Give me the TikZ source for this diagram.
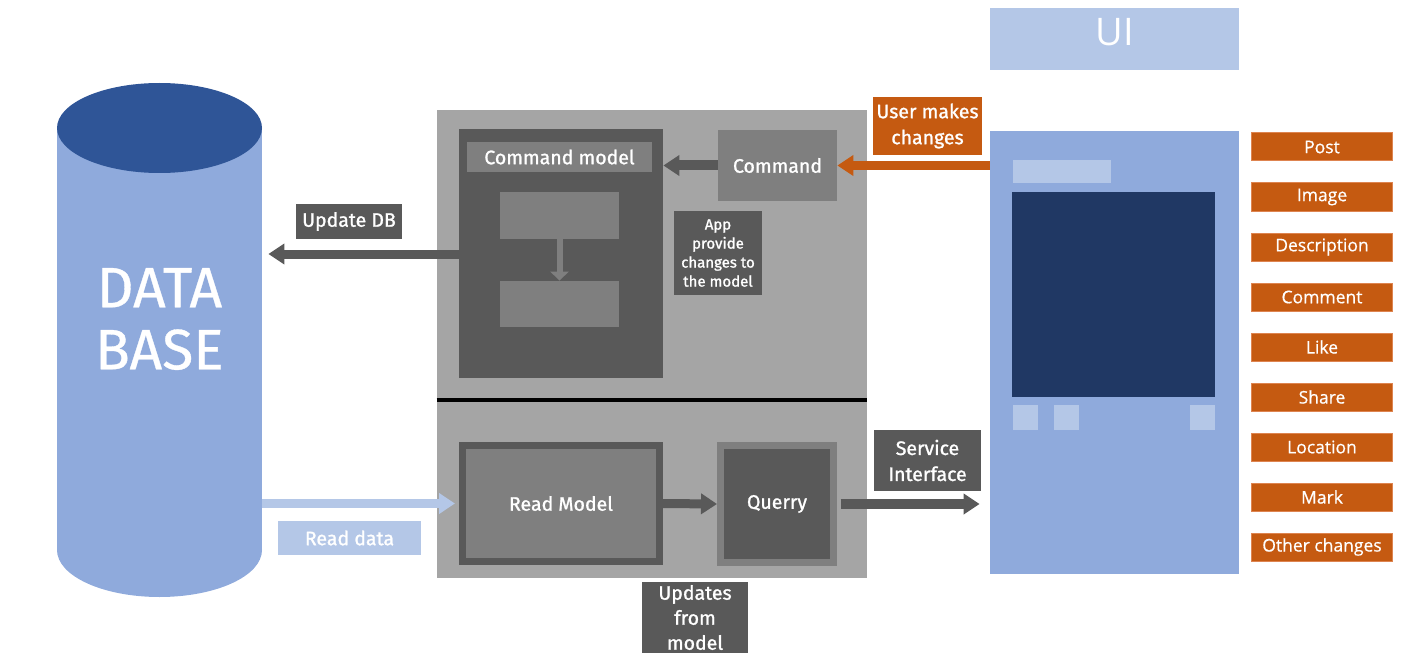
\documentclass[tikz,border=0pt]{standalone}
\usepackage{fontspec}
\setmainfont{Fira Sans}
\newfontfamily\boxfont{Fira Sans}[FakeBold=1.2]
\newfontfamily\dbfont{Fira Sans}[FakeBold=0.6]
\newfontfamily\uifont{Open Sans}
\newfontfamily\changefont{Open Sans}[FakeBold=0.6]
\usetikzlibrary{positioning, arrows.meta}

\definecolor{boxdark}{HTML}{595959}
\definecolor{boxmid}{HTML}{7F7F7F}
\definecolor{panelgray}{HTML}{A5A5A5}
\definecolor{uilight}{HTML}{B4C7E7}
\definecolor{uimid}{HTML}{8FAADC}
\definecolor{dbtop}{HTML}{2F5597}
\definecolor{screenblue}{HTML}{203864}
\definecolor{changeorange}{HTML}{C55A11}
\definecolor{changeedge}{HTML}{DE8450}

\begin{document}
\begin{tikzpicture}[x=1pt, y=-1pt, thick,
  base/.style = {inner sep=0pt, align=center, text=white, font=\boxfont\fontsize{19.5}{26}\selectfont},
  darkbox/.style = {base, fill=boxdark},
  midbox/.style = {base, fill=boxmid},
  change/.style = {base, fill=changeorange, draw=changeedge, line width=1pt, minimum width=141, minimum height=28, font=\changefont\fontsize{17.5}{20}\selectfont},
  bigarrow/.style = {line width=9pt, -{Triangle[width=20pt, length=16pt]}},
]
\useasboundingbox (0,0) rectangle (1410,663);

% database
\fill[uimid] (57,128) rectangle (262,550);
\fill[uimid] (159.5,550) ellipse [x radius=102.5, y radius=47];
\fill[dbtop] (159.5,128) ellipse [x radius=102.5, y radius=45];
\node[base, minimum width=205, font=\dbfont\fontsize{57}{62}\selectfont] (db) at (159.5,319) {DATA\\BASE};

% command / query side
\node[fill=panelgray, inner sep=0pt, minimum width=430, minimum height=468] (panel) at (652,344) {};
\draw[line width=4pt] (panel.west |- 0,399.5) -- (panel.east |- 0,399.5);

\node[darkbox, minimum width=204, minimum height=249] (cmdmodel) at (561,253.5) {};
\node[midbox, minimum width=185, minimum height=30] (cmdlabel) at (559.5,157) {Command model};
\node[midbox, minimum width=119, minimum height=47] (stepa) at (559.5,215.5) {};
\node[midbox, minimum width=119, minimum height=46] (stepb) at (559.5,304) {};
\draw[boxmid, line width=6pt, -{Triangle[width=18pt, length=9pt]}] (stepa) -- (stepb);

\node[midbox, minimum width=119, minimum height=71] (command) at (777.5,165.5) {Command};
\node[darkbox, minimum width=88, minimum height=84, font=\boxfont\fontsize{15}{19}\selectfont] (appnote) at (718,253) {App\\provide\\changes to\\the model};
\node[base, fill=changeorange, minimum width=109, minimum height=58] (usernote) at (927.5,126) {User makes\\changes};
\node[darkbox, minimum width=106, minimum height=35] (updatenote) at (349,221.5) {Update DB};

\node[midbox, draw=boxdark, line width=7pt, minimum width=197, minimum height=116] (readmodel) at (561,503.5) {Read Model};
\node[darkbox, draw=boxmid, line width=7pt, minimum width=113, minimum height=117] (querry) at (777,504) {Querry};
\node[darkbox, minimum width=107, minimum height=61] (servicenote) at (927.5,460.5) {Service\\Interface};
\node[base, fill=uilight, minimum width=143, minimum height=34] (readnote) at (349.5,538) {Read data};
\node[darkbox, minimum width=106, minimum height=71, font=\boxfont\fontsize{19.5}{25}\selectfont] (updatesnote) at (695,617.5) {Updates\\from\\model};

% UI
\node[base, fill=uilight, minimum width=249, minimum height=62, text depth=14pt, font=\uifont\fontsize{38}{40}\selectfont] (uititle) at (1114.5,39) {UI};
\node[fill=uimid, inner sep=0pt, minimum width=249, minimum height=443] (phone) at (1114.5,352.5) {};
\node[fill=uilight, inner sep=0pt, minimum width=98, minimum height=23] (titlebar) at (1062,171.5) {};
\node[fill=screenblue, inner sep=0pt, minimum width=203, minimum height=205] (screen) at (1113.5,294.5) {};
\node[fill=uilight, inner sep=0pt, minimum size=25] (btna) at (1025.5,417.5) {};
\node[fill=uilight, inner sep=0pt, minimum size=25] (btnb) at (1066.5,417.5) {};
\node[fill=uilight, inner sep=0pt, minimum size=25] (btnc) at (1202.5,417.5) {};

% changes
\node[change] (post) at (1322,147) {Post};
\node[change, below=21pt of post] (image) {Image};
\node[change, below=21pt of image] (description) {Description};
\node[change, below=21pt of description] (comment) {Comment};
\node[change, below=21pt of comment] (like) {Like};
\node[change, below=21pt of like] (share) {Share};
\node[change, below=21pt of share] (location) {Location};
\node[change, below=21pt of location] (mark) {Mark};
\node[change, below=21pt of mark] (other) {Other changes};

% arrows
\draw[bigarrow, boxdark, shorten >=6pt] (cmdmodel.west |- 0,254) -- (db.east |- 0,254);
\draw[bigarrow, uilight, shorten >=4pt] (db.east |- readmodel.west) -- (readmodel.west);
\draw[bigarrow, boxdark] (readmodel.east) -- (querry.west);
\draw[bigarrow, boxdark, line width=10pt, shorten <=3.5pt, shorten >=10pt] (querry.east) -- (phone.west |- querry.east);
\draw[bigarrow, boxdark, line width=10pt] (command.west) -- (cmdmodel.east |- command.west);
\draw[bigarrow, changeorange] (phone.west |- command.east) -- (command.east);
\end{tikzpicture}
\end{document}
